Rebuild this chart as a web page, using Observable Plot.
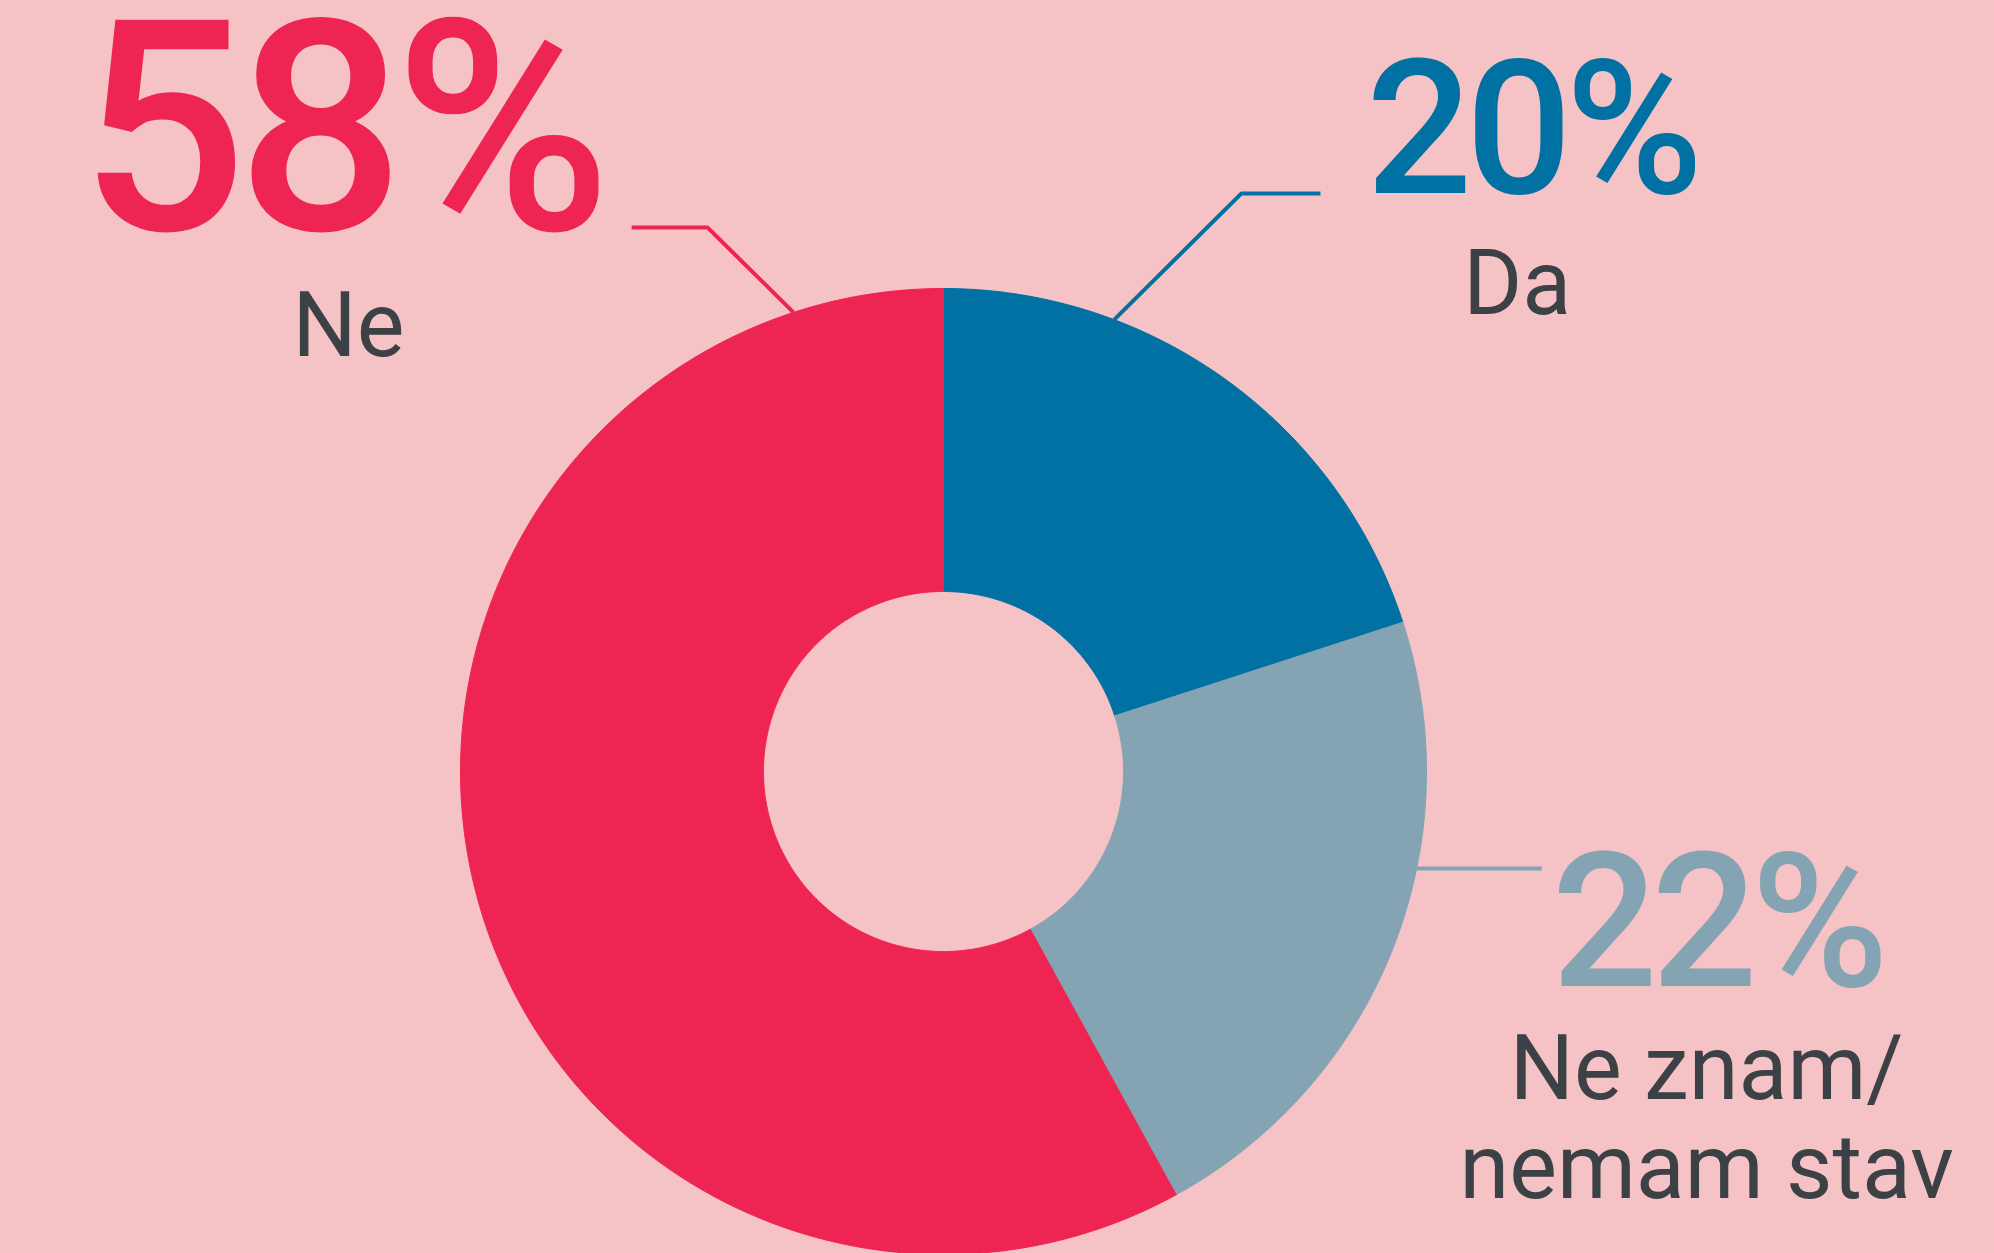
<!DOCTYPE html>
<html><head><meta charset="utf-8">
<script src="https://cdn.jsdelivr.net/npm/d3@7"></script>
<script src="https://cdn.jsdelivr.net/npm/@observablehq/plot@0.6"></script>
<style>
html,body{margin:0;padding:0;overflow:hidden;background:#f5c2c5;}
#chart svg{display:block;
  background-color:#f7c9cc;
  background-image:
    repeating-linear-gradient(35deg, rgba(238,150,160,0.30) 0 1.5px, transparent 1.5px 4.5px),
    repeating-linear-gradient(-55deg, rgba(238,150,160,0.30) 0 1.5px, transparent 1.5px 4.5px);
}
</style></head><body><div id="chart"></div>
<script>
// ---- data ----
const categories = ["Da", "Ne znam/\nnemam stav", "Ne"];
const values = [20, 22, 58];
const colors = ["#0071a2", "#84a4b4", "#ee2552"];

// ---- layout (chart units: outer radius = 1) ----
const W = 1994, H = 1253, CX = 943, CY = 771, R = 483, INNER = 0.3727;
const leaderLayout = [
  {angle: 20.7, dx: 0.263, dy: 0.261, h: 0.164},
  {angle: 101.6, dx: 0, dy: 0, h: 0.259},
  {angle: -18.1, dx: -0.178, dy: 0.176, h: -0.157}
];
const textLayout = [
  {nx: 1.217, ny: 1.197, nSize: 187, lx: 1.188, ly: 0.948, lSize: 90},
  {nx: 1.601, ny: -0.445, nSize: 187, lx: 1.580, ly: -0.882, lSize: 90},
  {nx: -1.249, ny: 1.122, nSize: 295, lx: -1.232, ly: 0.861, lSize: 90}
];

// ---- derived ----
const pie = d3.pie().sort(null).value(d => d)(values);
const arcRows = [];
pie.forEach((p, i) => {
  const n = Math.ceil((p.endAngle - p.startAngle) / (Math.PI / 360));
  const pts = [];
  for (let k = 0; k <= n; k++) { const a = p.startAngle + (p.endAngle - p.startAngle) * k / n; pts.push([Math.sin(a), Math.cos(a)]); }
  for (let k = n; k >= 0; k--) { const a = p.startAngle + (p.endAngle - p.startAngle) * k / n; pts.push([INNER * Math.sin(a), INNER * Math.cos(a)]); }
  pts.push(pts[0]);
  pts.forEach(([x, y]) => arcRows.push({cat: categories[i], x, y}));
});

const leaderRows = [];
leaderLayout.forEach((L, i) => {
  const a = L.angle * Math.PI / 180;
  const x0 = Math.sin(a), y0 = Math.cos(a);
  const x1 = x0 + L.dx, y1 = y0 + L.dy;
  leaderRows.push({cat: categories[i], x: x0, y: y0});
  if (L.dx || L.dy) leaderRows.push({cat: categories[i], x: x1, y: y1});
  leaderRows.push({cat: categories[i], x: x1 + L.h, y: y1});
});

const numRows = categories.map((c, i) => ({cat: c, text: values[i] + "%", x: textLayout[i].nx, y: textLayout[i].ny, size: textLayout[i].nSize}));
const labRows = categories.map((c, i) => ({cat: c, text: c, x: textLayout[i].lx, y: textLayout[i].ly, size: textLayout[i].lSize}));

const chart = Plot.plot({
  width: W, height: H, margin: 0,
  x: {domain: [-CX / R, (W - CX) / R], axis: null},
  y: {domain: [(CY - H) / R, CY / R], axis: null},
  color: {domain: categories, range: colors},
  style: {background: "transparent", fontFamily: "Roboto, sans-serif", overflow: "visible"},
  marks: [
    Plot.line(arcRows, {x: "x", y: "y", z: "cat", fill: "cat", stroke: "cat", strokeWidth: 1, curve: "linear"}),
    Plot.line(leaderRows, {x: "x", y: "y", z: "cat", stroke: "cat", strokeWidth: 4, strokeLinecap: "butt", strokeLinejoin: "miter"}),
    Plot.text(numRows, {x: "x", y: "y", text: "text", fill: "cat", fontSize: "size", fontWeight: 500, lineAnchor: "bottom", textAnchor: "middle"}),
    Plot.text(labRows, {x: "x", y: "y", text: "text", fill: "#3c4146", fontSize: "size", fontWeight: 400, lineAnchor: "bottom", textAnchor: "middle", lineHeight: 1.1})
  ]
});
const textGroups = chart.querySelectorAll('g[aria-label="text"]');
if (textGroups.length) {
  textGroups[0].querySelectorAll("text").forEach(t => {
    const fs = parseFloat(t.getAttribute("font-size")) || 187;
    t.style.letterSpacing = (-0.035 * fs).toFixed(1) + "px";
  });
}
document.getElementById("chart").appendChild(chart);
</script>
</body></html>
